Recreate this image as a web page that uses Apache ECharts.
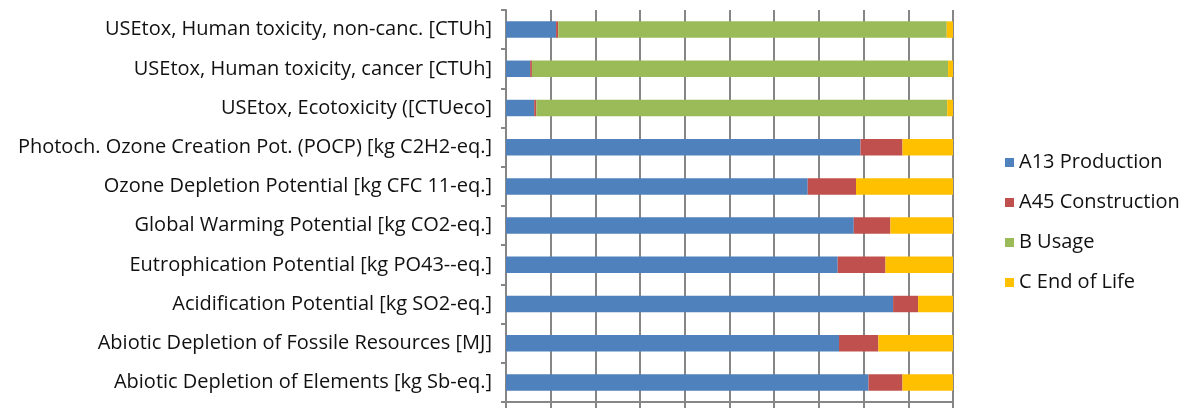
<!DOCTYPE html>
<html><head><meta charset="utf-8">
<script src="https://cdn.jsdelivr.net/npm/echarts@6/dist/echarts.min.js"></script>
<style>html,body{margin:0;padding:0;background:#fff}#c{width:1187px;height:408px}</style>
</head><body><div id="c"></div>
<script>
const categories = [
  "USEtox, Human toxicity, non-canc. [CTUh]",
  "USEtox, Human toxicity, cancer [CTUh]",
  "USEtox, Ecotoxicity ([CTUeco]",
  "Photoch. Ozone Creation Pot. (POCP) [kg C2H2-eq.]",
  "Ozone Depletion Potential [kg CFC 11-eq.]",
  "Global Warming Potential [kg CO2-eq.]",
  "Eutrophication Potential [kg PO43--eq.]",
  "Acidification Potential [kg SO2-eq.]",
  "Abiotic Depletion of Fossile Resources [MJ]",
  "Abiotic Depletion of Elements [kg Sb-eq.]"
];
const seriesNames = ["A13 Production", "A45 Construction", "B Usage", "C End of Life"];
const production   = [11.2, 5.4, 6.3, 79.3, 67.5, 77.8, 74.2, 86.6, 74.5, 81.1];
const construction = [0.5, 0.4, 0.5, 9.4, 10.8, 8.2, 10.7, 5.6, 8.8, 7.6];
const usage        = [86.9, 93.1, 91.9, 0, 0, 0, 0, 0, 0, 0];
const endOfLife    = [1.4, 1.1, 1.3, 11.3, 21.7, 14.0, 15.1, 7.8, 16.7, 11.3];

const colors = ["#4F81BD", "#C0504D", "#9BBB59", "#FFC000"];
const values = [production, construction, usage, endOfLife];
const font = "'Open Sans', Lato, sans-serif";

const chart = echarts.init(document.getElementById('c'), null, {renderer: 'canvas'});
chart.setOption({
  animation: false,
  color: colors,
  textStyle: {fontFamily: font},
  grid: {left: 506, right: 234, top: 10, bottom: 6, containLabel: false},
  legend: {
    orient: 'vertical', left: 1000, top: 145,
    itemWidth: 9, itemHeight: 9, itemGap: 15, icon: 'rect',
    textStyle: {fontFamily: font, fontSize: 20, lineHeight: 25, color: '#111', padding: [0, 0, 0, 0]},
    data: seriesNames
  },
  xAxis: {
    type: 'value', min: 0, max: 100, interval: 10,
    axisLabel: {show: false},
    axisLine: {show: true, lineStyle: {color: '#868686', width: 2}},
    axisTick: {show: true, length: 6, lineStyle: {color: '#868686', width: 2}},
    splitLine: {show: true, lineStyle: {color: '#868686', width: 2}}
  },
  yAxis: {
    type: 'category', inverse: true, data: categories,
    axisLine: {show: true, lineStyle: {color: '#868686', width: 2}},
    axisTick: {show: true, length: 5, lineStyle: {color: '#868686', width: 2}},
    axisLabel: {fontFamily: font, fontSize: 20, color: '#111', margin: 14}
  },
  series: seriesNames.map((n, i) => ({
    name: n, type: 'bar', stack: 'total', barWidth: '42%',
    itemStyle: {color: colors[i]},
    data: values[i]
  }))
});
</script></body></html>
